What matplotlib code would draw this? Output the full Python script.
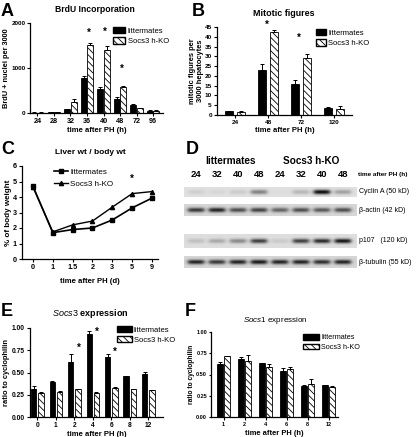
import numpy as np
import matplotlib
matplotlib.use("Agg")
import matplotlib.pyplot as plt
from matplotlib.patches import Patch

plt.rcParams['font.family'] = ['Liberation Sans', 'DejaVu Sans']
plt.rcParams['mathtext.fontset'] = 'custom'
plt.rcParams['mathtext.it'] = 'Liberation Sans:italic'
plt.rcParams['mathtext.rm'] = 'Liberation Sans'
plt.rcParams['hatch.linewidth'] = 0.6

# ---- data ----
# A: BrdU incorporation
brdu_time = ["24", "28", "32", "36", "40", "48", "72", "96"]
brdu_litt = [10, 15, 80, 780, 540, 310, 180, 50]
brdu_litt_err = [3, 3, 10, 40, 30, 40, 30, 8]
brdu_ko = [10, 15, 240, 1520, 1400, 570, 110, 50]
brdu_ko_err = [3, 3, 70, 30, 100, 40, 10, 8]
brdu_star = {3: 1780, 4: 1800, 5: 980}

# B: mitotic figures
mit_time = ["24", "48", "72", "120"]
mit_litt = [1.8, 23, 16, 3.8]
mit_litt_err = [0.3, 3, 2, 0.5]
mit_ko = [1.5, 42.5, 29, 3.0]
mit_ko_err = [0.8, 1, 2, 1.5]
mit_star = {1: 46, 2: 39.5}

# C: liver wt / body wt
lw_time = ["0", "1", "1.5", "2", "3", "5", "9"]
lw_litt = [4.7, 1.7, 1.9, 2.0, 2.52, 3.3, 3.93]
lw_ko = [4.65, 1.75, 2.2, 2.45, 3.35, 4.22, 4.35]
lw_star = {5: 5.2}

# D: western blot band intensities (0..1), lanes: litt 24,32,40,48 / KO 24,32,40,48
blot_lanes = ["24", "32", "40", "48", "24", "32", "40", "48"]
cyclinA = [0.08, 0.05, 0.1, 0.45, 0.02, 0.2, 1.0, 0.3]
bactin = [0.75, 0.85, 0.65, 0.7, 0.55, 0.65, 0.6, 0.65]
p107 = [0.15, 0.25, 0.4, 0.75, 0.1, 0.75, 0.85, 0.95]
btubulin = [0.85, 0.75, 0.85, 0.9, 0.85, 0.85, 0.8, 0.85]
blot_names = ["Cyclin A (50 kD)", "β-actin (42 kD)", "p107   (120 kD)", "β-tubulin (55 kD)"]

# E: Socs3 expression
s3_time = ["0", "1", "2", "4", "6", "8", "12"]
s3_litt = [0.32, 0.39, 0.62, 0.93, 0.67, 0.46, 0.48]
s3_litt_err = [0.03, 0.02, 0.09, 0.04, 0.04, 0.0, 0.03]
s3_ko = [0.27, 0.28, 0.31, 0.27, 0.33, 0.31, 0.30]
s3_ko_err = [0.01, 0.01, 0.01, 0.01, 0.01, 0.0, 0.0]
s3_star = {2: 0.78, 3: 0.96, 4: 0.73}

# F: Socs1 expression
s1_time = ["1", "2", "4", "6", "8", "12"]
s1_litt = [0.62, 0.68, 0.64, 0.54, 0.37, 0.38]
s1_litt_err = [0.03, 0.03, 0.0, 0.04, 0.01, 0.0]
s1_ko = [0.72, 0.66, 0.59, 0.56, 0.39, 0.35]
s1_ko_err = [0.0, 0.07, 0.03, 0.03, 0.06, 0.02]

W, H = 416, 437
fig = plt.figure(figsize=(W / 100, H / 100), dpi=100)
HATCH = '\\\\\\\\\\'


def px_axes(l, t, r, b):
    return fig.add_axes([l / W, 1 - b / H, (r - l) / W, (b - t) / H])


def ftext(x, y, s, **kw):
    kw.setdefault('va', 'center')
    fig.text(x / W, 1 - y / H, s, **kw)


def style_axes(ax, fs=5.2):
    ax.spines['top'].set_visible(False)
    ax.spines['right'].set_visible(False)
    for s in ['left', 'bottom']:
        ax.spines[s].set_linewidth(0.9)
    ax.tick_params(length=2.2, width=0.8, labelsize=fs, pad=1.5)
    for lab in ax.get_xticklabels() + ax.get_yticklabels():
        lab.set_fontweight('bold')


def bar_panel(ax, cats, v1, e1, v2, e2, width, off):
    x = np.arange(len(cats))
    ax.bar(x - off, v1, width, color='black', edgecolor='black', linewidth=0.6, zorder=2)
    ax.bar(x + off, v2, width, color='white', edgecolor='black', linewidth=0.6,
           hatch=HATCH, zorder=2)
    ax.errorbar(x - off, v1, yerr=[np.zeros(len(v1)), e1], fmt='none', ecolor='black',
                elinewidth=0.7, capsize=1.5, capthick=0.7, zorder=3)
    ax.errorbar(x + off, v2, yerr=[np.zeros(len(v2)), e2], fmt='none', ecolor='black',
                elinewidth=0.7, capsize=1.5, capthick=0.7, zorder=3)
    ax.set_xticks(x)
    ax.set_xticklabels(cats)
    return x


def stars(ax, where, dx=0.0):
    for i, y in where.items():
        ax.text(i + dx, y, '*', ha='center', va='center', fontsize=7, fontweight='bold')


def bar_legend(ax, x, y, fs=5.5, hl=1.6, hh=0.9):
    h = [Patch(facecolor='black', edgecolor='black'),
         Patch(facecolor='white', edgecolor='black', hatch=HATCH)]
    ax.legend(h, ['littermates', 'Socs3 h-KO'], loc='upper left',
              bbox_to_anchor=(x / W, 1 - y / H), bbox_transform=fig.transFigure,
              frameon=False, fontsize=fs, borderpad=0, borderaxespad=0,
              handlelength=hl, handleheight=hh, handletextpad=0.3, labelspacing=0.35)


def ylabel_at(ax, text, right_px, left_px, width_px, **kw):
    # right_px: pixel x of the right edge of the rotated label
    ax.set_ylabel(text, fontweight='bold', **kw)
    ax.yaxis.set_label_coords((right_px - left_px) / width_px, 0.5)


# ---- A ----
ax = px_axes(30, 23, 163, 113)
x = bar_panel(ax, brdu_time, brdu_litt, brdu_litt_err, brdu_ko, brdu_ko_err, 0.36, 0.2)
ax.set_xlim(-0.45, 7.6)
ax.set_ylim(0, 2000)
ax.set_yticks([0, 1000, 2000])
stars(ax, brdu_star, 0.1)
ax.set_xlabel('time after PH (h)', fontsize=5.5, fontweight='bold', labelpad=1.5)
ylabel_at(ax, 'BrdU + nuclei per 3000', 10, 30, 133, fontsize=5.3)
style_axes(ax)
ax.tick_params(axis='y', labelsize=4.6, pad=1)
bar_legend(ax, 113, 27)
ftext(95, 10, 'BrdU Incorporation', ha='center', fontsize=6.2, fontweight='bold')
ftext(1, 11, 'A', fontsize=13, fontweight='bold')

# ---- B ----
ax = px_axes(217, 27, 352, 115)
x = bar_panel(ax, mit_time, mit_litt, mit_litt_err, mit_ko, mit_ko_err, 0.25, 0.18)
ax.set_xlim(-0.55, 3.55)
ax.set_ylim(0, 45)
ax.set_yticks(range(0, 46, 5))
stars(ax, mit_star, -0.05)
ax.set_xlabel('time after PH (h)', fontsize=5.5, fontweight='bold', labelpad=1.5)
ylabel_at(ax, 'mitotic figures per\n3000 hepatocytes', 204, 217, 135, fontsize=5.4,
          linespacing=1.1)
style_axes(ax, 4.6)
bar_legend(ax, 316, 29, hl=1.3)
ftext(284, 13, 'Mitotic figures', ha='center', fontsize=6.4, fontweight='bold')
ftext(192, 11, 'B', fontsize=13, fontweight='bold')

# ---- C ----
ax = px_axes(22, 166, 158, 259)
x = np.arange(len(lw_time))
ax.plot(x, lw_litt, color='black', marker='s', markersize=3, linewidth=1.2, label='littermates')
ax.plot(x, lw_ko, color='black', marker='^', markersize=3, linewidth=1.0, label='Socs3 h-KO')
stars(ax, lw_star)
ax.set_xticks(x)
ax.set_xticklabels(lw_time)
ax.set_xlim(-0.55, 6.3)
ax.set_ylim(0, 6)
ax.set_yticks(range(0, 7))
ax.set_xlabel('time after PH (d)', fontsize=5.6, fontweight='bold', labelpad=5)
ylabel_at(ax, '% of body weight', 12, 22, 136, fontsize=5.8)
style_axes(ax)
ax.legend(loc='upper left', bbox_to_anchor=(54 / W, 1 - 168 / H), bbox_transform=fig.transFigure,
          frameon=False, fontsize=5.8, borderpad=0, borderaxespad=0, handlelength=1.7,
          handletextpad=0.3, labelspacing=0.55)
ftext(90, 152, 'Liver wt / body wt', ha='center', fontsize=6, fontweight='bold')
ftext(1, 150, 'C', fontsize=13, fontweight='bold')

# ---- D ----
bl, br = 184, 357
bax = px_axes(bl, 183, br, 272)
bax.set_xlim(bl, br)
bax.set_ylim(272, 183)
bax.axis('off')
lane_x = 196 + 21 * np.arange(len(blot_lanes))
strips = [(187, 197, cyclinA, 0.88), (204, 216, bactin, 0.84),
          (234, 248, p107, 0.87), (256, 268, btubulin, 0.84)]
for (t, b, vals, bg), name in zip(strips, blot_names):
    xs = np.linspace(bl, br, 700)
    ys = np.linspace(t, b, 60)
    XX, YY = np.meshgrid(xs, ys)
    img = np.full(XX.shape, bg)
    yc = (t + b) / 2
    for cx, v in zip(lane_x, vals):
        xp = 1 / (1 + np.exp(-(XX - (cx - 8)) / 1.2)) / (1 + np.exp((XX - (cx + 8)) / 1.2))
        yp = np.exp(-((YY - yc) / 2.3) ** 2)
        img = img - v * 0.85 * xp * yp
    bax.imshow(np.clip(img, 0, 1), cmap='gray', vmin=0, vmax=1, extent=(bl, br, b, t),
               aspect='auto', interpolation='bilinear')
    ftext(359, yc, name, ha='left', fontsize=5)
for lx, lab in zip(lane_x, blot_lanes):
    ftext(lx, 175, lab, ha='center', fontsize=6.8, fontweight='bold')
ftext(230, 161, 'littermates', ha='center', fontsize=7.2, fontweight='bold')
ftext(311, 161, 'Socs3 h-KO', ha='center', fontsize=7.2, fontweight='bold')
ftext(358, 175, 'time after PH (h)', ha='left', fontsize=4.6, fontweight='bold')
ftext(186, 150, 'D', fontsize=13, fontweight='bold')

# ---- E ----
ax = px_axes(30, 328, 163, 417)
x = bar_panel(ax, s3_time, s3_litt, s3_litt_err, s3_ko, s3_ko_err, 0.28, 0.2)
ax.set_xlim(-0.4, 6.8)
ax.set_ylim(0, 1.0)
ax.set_yticks([0, 0.25, 0.5, 0.75, 1.0])
ax.set_yticklabels(['0.00', '0.25', '0.50', '0.75', '1.00'])
stars(ax, s3_star, 0.22)
ax.set_xlabel('time after PH (h)', fontsize=5.5, fontweight='bold', labelpad=1.5)
ylabel_at(ax, 'ratio to cyclophilin', 10, 30, 133, fontsize=5.4)
style_axes(ax, 4.8)
bar_legend(ax, 117, 326, hl=1.9, hh=0.8)
ftext(90, 314, r'$\mathit{Socs3}$ expression', ha='center', fontsize=6.5, fontweight='bold')
ftext(1, 311, 'E', fontsize=13, fontweight='bold')

# ---- F ----
ax = px_axes(211, 332, 338, 417)
x = bar_panel(ax, s1_time, s1_litt, s1_litt_err, s1_ko, s1_ko_err, 0.27, 0.17)
ax.set_xlim(-0.6, 5.45)
ax.set_ylim(0, 1.0)
ax.set_yticks([0, 0.25, 0.5, 0.75, 1.0])
ax.set_yticklabels(['0.00', '0.25', '0.50', '0.75', '1.00'])
ax.set_xlabel('time after PH (h)', fontsize=5.4, fontweight='bold', labelpad=2)
ylabel_at(ax, 'ratio to cyclophilin', 195, 211, 127, fontsize=4.8)
style_axes(ax, 4.0)
ax.tick_params(axis='y', length=1.8, pad=1)
bar_legend(ax, 303, 334, fs=5.2, hl=2.2, hh=0.8)
ftext(275, 320, r'$\mathit{Socs1}$ expression', ha='center', fontsize=5.8)
ftext(185, 311, 'F', fontsize=13, fontweight='bold')

fig.savefig('out.png', dpi=100)
